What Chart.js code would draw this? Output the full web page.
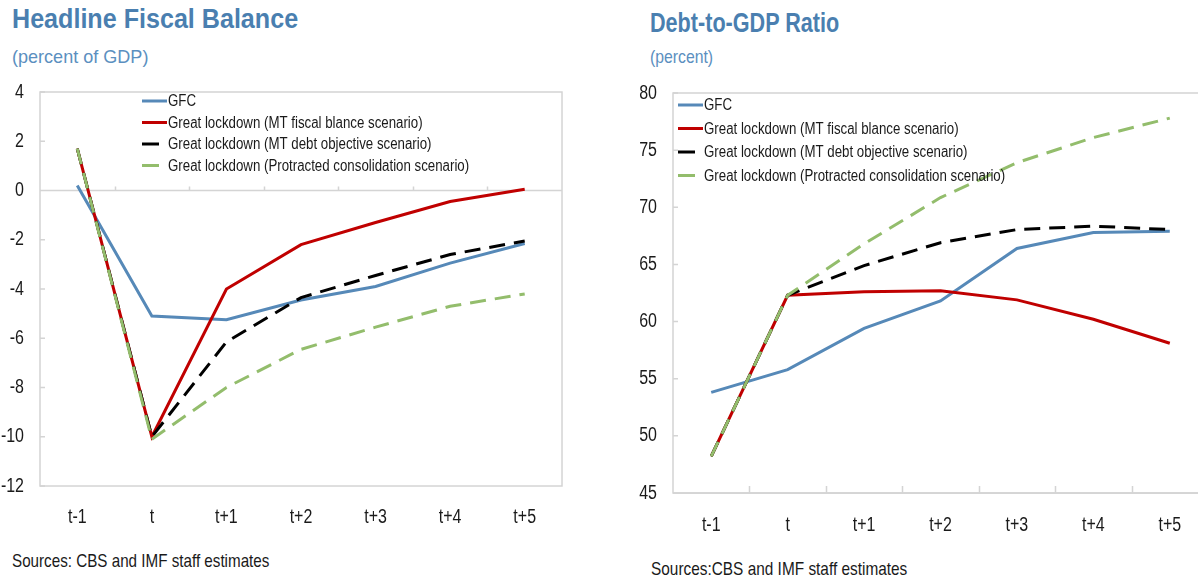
<!DOCTYPE html>
<html>
<head>
<meta charset="utf-8">
<script src="https://cdn.jsdelivr.net/npm/chart.js@4.4.1/dist/chart.umd.min.js"></script>
<style>
  html, body { margin: 0; padding: 0; background: #fff; }
  body { width: 1198px; height: 579px; overflow: hidden; position: relative;
         font-family: 'Liberation Sans', Arial, sans-serif; }
  .txt { position: absolute; white-space: nowrap; transform-origin: 0 0; }
  .title { font-weight: bold; font-size: 27px; color: #4a7fb0; }
  .sub { font-size: 19px; color: #5b8fc0; }
  .src { font-size: 19px; color: #1a1a1a; }
  canvas { position: absolute; }
</style>
</head>
<body>
<div class="txt title" style="left:12px; top:4px; transform:scaleX(0.93);">Headline Fiscal Balance</div>
<div class="txt sub" style="left:12px; top:46px; transform:scaleX(0.95);">(percent of GDP)</div>
<div class="txt title" style="left:650px; top:8px; transform:scaleX(0.8);">Debt-to-GDP Ratio</div>
<div class="txt sub" style="left:650px; top:46px; transform:scaleX(0.83);">(percent)</div>

<canvas id="fiscal" width="580" height="460" style="left:0px; top:80px;"></canvas>
<canvas id="debt" width="620" height="470" style="left:600px; top:80px;"></canvas>

<div class="txt src" style="left:12px; top:550px; transform:scaleX(0.8);">Sources: CBS and IMF staff estimates</div>
<div class="txt src" style="left:651px; top:558px; transform:scaleX(0.81);">Sources:CBS and IMF staff estimates</div>

<script>
const periods = ["t-1", "t", "t+1", "t+2", "t+3", "t+4", "t+5"];
const seriesNames = [
  "GFC",
  "Great lockdown (MT fiscal blance scenario)",
  "Great lockdown (MT debt objective scenario)",
  "Great lockdown (Protracted consolidation scenario)"
];

// headline fiscal balance, percent of GDP
const fiscalGfc       = [0.2, -5.1, -5.25, -4.45, -3.9, -2.95, -2.15];
const fiscalBalance   = [1.7, -10.0, -4.0, -2.2, -1.3, -0.45, 0.05];
const fiscalDebtObj   = [1.7, -10.0, -6.15, -4.35, -3.45, -2.6, -2.05];
const fiscalProtract  = [1.7, -10.1, -8.0, -6.45, -5.55, -4.7, -4.2];

// debt-to-GDP, percent
const debtGfc       = [53.8, 55.8, 59.4, 61.8, 66.4, 67.8, 67.9];
const debtBalance   = [48.2, 62.3, 62.6, 62.7, 61.9, 60.2, 58.1];
const debtDebtObj   = [48.2, 62.3, 64.9, 66.9, 68.05, 68.35, 68.05];
const debtProtract  = [48.2, 62.3, 66.8, 70.85, 73.9, 76.1, 77.8];

const fiscalRange = [-12, 4, 2];
const debtRange = [45, 80, 5];

const FONT = "'Liberation Sans', Arial, sans-serif";
const colors = ["#5689b8", "#c00000", "#000000", "#93bd6c"];
const dashes = [[], [], [16, 9], [16, 9]];

function makeDatasets(values) {
  return values.map((v, i) => ({
    label: seriesNames[i],
    data: v,
    borderColor: colors[i],
    backgroundColor: colors[i],
    borderWidth: 3,
    borderDash: dashes[i],
    pointRadius: 0,
    tension: 0,
    order: 3 - i // green drawn on top
  }));
}

// squeezed text, the source uses a narrow face we don't have
function narrowText(ctx, text, x, y, sx, align) {
  ctx.save();
  ctx.translate(x, y);
  ctx.scale(sx, 1);
  ctx.textAlign = align;
  ctx.fillText(text, 0, 0);
  ctx.restore();
}

// box, base line with tick marks, axis labels and the legend inside the plot
const framePlugin = {
  id: "frame",
  beforeDatasetsDraw(chart, args, opts) {
    const { ctx, chartArea: a, scales: { x, y } } = chart;
    ctx.save();
    ctx.strokeStyle = "#d4d4d4";
    ctx.lineWidth = 1.5;
    ctx.strokeRect(a.left, a.top, a.width, a.height);

    const by = y.getPixelForValue(opts.baseValue);
    ctx.beginPath();
    ctx.moveTo(a.left, by);
    ctx.lineTo(a.right, by);
    for (let i = 0; i < periods.length - 1; i++) {
      const tx = Math.round((x.getPixelForValue(i) + x.getPixelForValue(i + 1)) / 2) + 0.5;
      ctx.moveTo(tx, by);
      ctx.lineTo(tx, by - opts.tickLen);
    }
    y.ticks.forEach(t => {
      const ty = y.getPixelForValue(t.value);
      ctx.moveTo(a.left, ty);
      ctx.lineTo(a.left + 5, ty);
    });
    ctx.stroke();

    // tick labels
    ctx.fillStyle = "#1a1a1a";
    ctx.font = "20px " + FONT;
    ctx.textBaseline = "middle";
    y.ticks.forEach(t => {
      narrowText(ctx, String(t.value), a.left - 16, y.getPixelForValue(t.value), 0.8, "right");
    });
    periods.forEach((p, i) => {
      narrowText(ctx, p, x.getPixelForValue(i), a.bottom + opts.labelGap, 0.8, "center");
    });
    ctx.restore();
  },
  afterDraw(chart, args, opts) {
    const ctx = chart.ctx;
    ctx.save();
    ctx.font = "16px " + FONT;
    ctx.textBaseline = "middle";
    chart.data.datasets.forEach((ds, i) => {
      const ly = opts.legendY + i * opts.rowGap;
      ctx.strokeStyle = ds.borderColor;
      ctx.lineWidth = 3;
      ctx.setLineDash(ds.borderDash.length ? [17, 8] : []);
      ctx.beginPath();
      ctx.moveTo(opts.legendX, ly);
      ctx.lineTo(opts.legendX + 25, ly);
      ctx.stroke();
      ctx.setLineDash([]);
      ctx.fillStyle = "#1a1a1a";
      narrowText(ctx, ds.label, opts.legendX + 26, ly + 1, 0.83, "left");
    });
    ctx.restore();
  }
};

function buildChart(id, values, range, yWidth, xHeight, padding, frameOpts) {
  return new Chart(document.getElementById(id), {
    type: "line",
    data: { labels: periods, datasets: makeDatasets(values) },
    options: {
      responsive: false,
      animation: false,
      devicePixelRatio: 1,
      layout: { padding: padding },
      plugins: {
        legend: { display: false },
        tooltip: { enabled: false },
        frame: frameOpts
      },
      scales: {
        x: {
          offset: true,
          grid: { display: false },
          border: { display: false },
          ticks: { display: false, autoSkip: false },
          afterFit: s => { s.height = xHeight; }
        },
        y: {
          min: range[0],
          max: range[1],
          grid: { display: false },
          border: { display: false },
          ticks: { display: false, stepSize: range[2] },
          afterFit: s => { s.width = yWidth; }
        }
      }
    },
    plugins: [framePlugin]
  });
}

buildChart("fiscal", [fiscalGfc, fiscalBalance, fiscalDebtObj, fiscalProtract], fiscalRange,
  40, 54, { top: 12, right: 18, left: 0, bottom: 0 },
  { baseValue: 0, tickLen: 4, labelGap: 31, legendX: 142, legendY: 21, rowGap: 21.5 });

buildChart("debt", [debtGfc, debtBalance, debtDebtObj, debtProtract], debtRange,
  73, 57, { top: 13, right: 12, left: 0, bottom: 0 },
  { baseValue: 45, tickLen: 7, labelGap: 32, legendX: 78, legendY: 25, rowGap: 23.5 });
</script>
</body>
</html>
